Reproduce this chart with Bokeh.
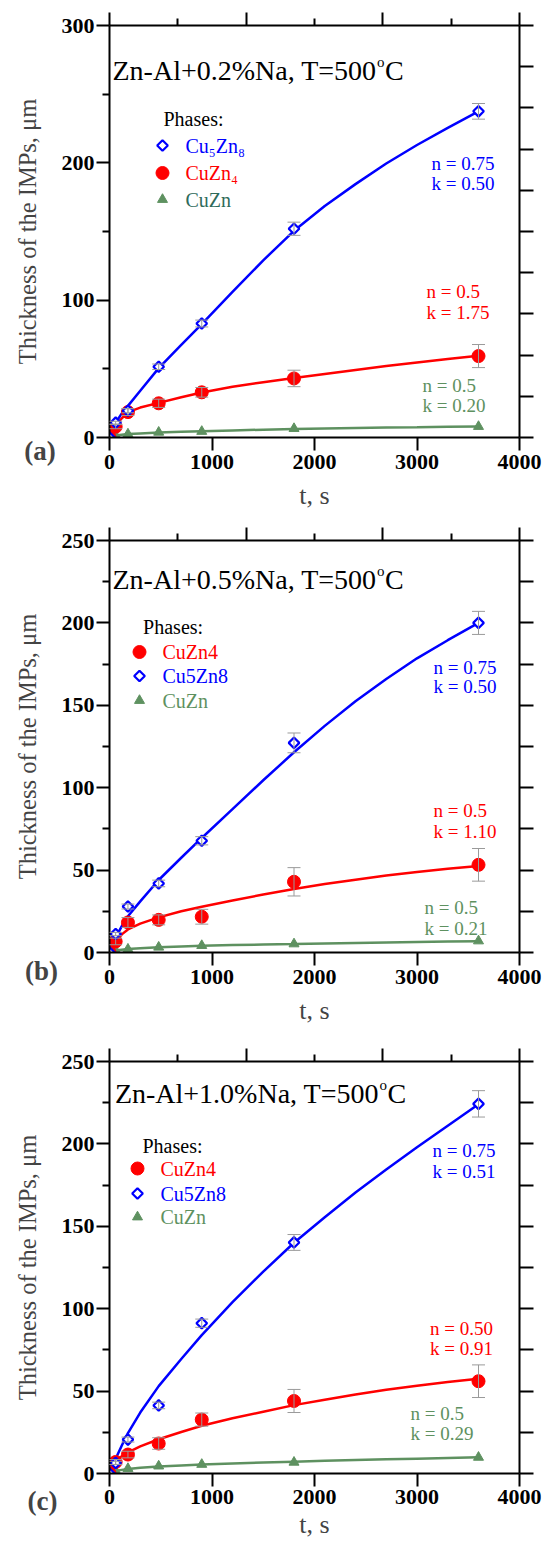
import numpy as np
from bokeh.plotting import figure
from bokeh.layouts import column, row
from bokeh.models import (Range1d, LinearAxis, FixedTicker, Label, Whisker,
                          ColumnDataSource, TeeHead)
from bokeh.embed import file_html
from bokeh.resources import INLINE

# ---------------- data ----------------
t = [0, 60, 180, 480, 900, 1800, 3600]
t_fit = [0, 30, 60, 120, 180, 300, 480, 700, 900, 1200, 1500, 1800,
         2100, 2400, 2700, 3000, 3300, 3600]

# panel (a): Zn-Al+0.2%Na
a_cu5zn8 = [0, 10.8, 19.5, 51.5, 83, 152, 237.5]
a_cu5zn8_err = [0, 1, 1.5, 2, 2.5, 4.8, 5.7]
a_cuzn4 = [0, 7.9, 18.5, 24.9, 32.9, 43, 59.3]
a_cuzn4_err = [0, 1.5, 2.5, 3, 3.5, 6, 8.4]
a_cuzn = [0, 1.5, 2.5, 3.8, 4.4, 6.5, 8]
a_fit_cu5zn8 = [0, 6.2, 10.8, 17.5, 23, 34, 50.5, 67.5, 82.5, 106, 129, 150.5,
                168.5, 184.5, 199.5, 213, 225.5, 237.5]
a_fit_cuzn4 = [0, 5, 8.5, 14, 18.5, 21.8, 25.2, 29.3, 32.8, 37, 40.3, 43.3,
               46.3, 49.2, 52, 54.6, 57.1, 59.5]
a_fit_cuzn = [0, 1, 1.5, 2, 2.5, 3, 3.6, 4.1, 4.5, 5.1, 5.7, 6.2, 6.6, 7, 7.3, 7.5, 7.8, 8]

# panel (b): Zn-Al+0.5%Na
b_cu5zn8 = [0, 11.2, 27.9, 41.9, 67.8, 127.2, 200]
b_cu5zn8_err = [0, 1, 1.5, 2, 2.5, 6, 7]
b_cuzn4 = [0, 6.7, 18.2, 19.8, 21.7, 42.9, 53.2]
b_cuzn4_err = [0, 2, 3, 3, 4.5, 8.6, 9.9]
b_cuzn = [0, 1.2, 2, 3.2, 4.2, 5.2, 7]
b_fit_cu5zn8 = [0, 5, 9, 16, 22, 31, 44, 57.5, 69.5, 87, 104.5, 121.5,
                137.5, 152.5, 166, 178.5, 189.5, 200]
b_fit_cuzn4 = [0, 4, 6.5, 11, 14, 17.5, 21.3, 25, 27.8, 31.5, 35.2, 38.5,
               41.5, 44.2, 46.7, 48.8, 50.8, 52.5]
b_fit_cuzn = [0, 0.8, 1.2, 1.7, 2.1, 2.6, 3.2, 3.7, 4.1, 4.5, 4.8, 5.1, 5.5, 5.8, 6.1, 6.4, 6.7, 6.9]

# panel (c): Zn-Al+1.0%Na
c_cu5zn8 = [0, 6.4, 20.6, 41.3, 91.2, 140.2, 224.3]
c_cu5zn8_err = [0, 1, 1.5, 2, 2.5, 4.8, 8]
c_cuzn4 = [0, 7, 11.5, 18.2, 32.7, 44, 56]
c_cuzn4_err = [0, 1.5, 2, 3.5, 4, 7, 9.9]
c_cuzn = [0, 1.5, 3, 4.5, 5.5, 6.8, 9.8]
c_fit_cu5zn8 = [0, 5, 9, 17, 24.5, 37, 53, 69.5, 84, 104, 122.5, 140,
                155.5, 170.5, 184.5, 198, 211, 224]
c_fit_cuzn4 = [0, 5, 8, 10.5, 12.8, 16.5, 20.8, 25.2, 29, 33.5, 37.5, 41.5,
               44.8, 48, 50.8, 53.2, 55.5, 57.5]
c_fit_cuzn = [0, 1, 1.5, 2.2, 2.8, 3.5, 4.2, 4.9, 5.5, 6.1, 6.7, 7.2, 7.7, 8.2, 8.6, 9, 9.4, 9.8]

x_ticks = [0, 1000, 2000, 3000, 4000]

# ---------------- style ----------------
FONT = "Liberation Serif"
BLUE = "#0000ff"
RED = "#ff0000"
GREEN = "#5e9160"
GREEN_DARK = "#2f6b5b"
GRAY = "#9a9a9a"

STRIP_W = 58
MAIN_W = 553 - STRIP_W
BORDER_L = 51
FX0 = STRIP_W + BORDER_L    # page x of frame left
FW = 410.0
FH = 412.0


def style_axis(ax, major_out, minor_out, labels=True, standoff=3):
    ax.axis_line_width = 2
    ax.axis_line_color = "black"
    ax.major_tick_line_width = 2
    ax.minor_tick_line_width = 2
    ax.major_tick_in = 0
    ax.minor_tick_in = 0
    ax.major_tick_out = major_out
    ax.minor_tick_out = minor_out
    if labels:
        ax.major_label_text_font = FONT
        ax.major_label_text_font_style = "bold"
        ax.major_label_text_font_size = "22px"
        ax.major_label_text_color = "black"
        ax.major_label_standoff = standoff
    else:
        ax.major_label_text_font_size = "1px"
        ax.major_label_text_alpha = 0
        ax.major_label_standoff = 0


def build(cfg):
    ymax = cfg["ymax"]
    ftop = cfg["frame_top"]
    fig_top = cfg["fig_top"]
    H = cfg["H"]

    def X(px):
        return (px - FX0) / FW * 4000.0

    def Y(py):
        return (ftop + FH - py) / FH * ymax

    p = figure(width=MAIN_W, height=H, x_range=Range1d(0, 4000), y_range=Range1d(0, ymax),
               output_backend="svg", toolbar_location=None,
               min_border_left=BORDER_L, min_border_right=MAIN_W - BORDER_L - int(FW),
               min_border_top=ftop - fig_top, min_border_bottom=H - (ftop - fig_top) - int(FH))
    p.grid.visible = False
    p.outline_line_color = None
    p.background_fill_color = "white"
    p.border_fill_color = "white"

    # bottom axis
    p.xaxis.ticker = FixedTicker(ticks=x_ticks, minor_ticks=[])
    style_axis(p.xaxis[0], 13, 0, standoff=cfg["xstand"])
    p.xaxis.axis_label = "t, s"
    p.xaxis.axis_label_text_font = FONT
    p.xaxis.axis_label_text_font_style = "normal"
    p.xaxis.axis_label_text_font_size = "26px"
    p.xaxis.axis_label_standoff = cfg["xlstand"]
    # left axis
    p.yaxis.ticker = FixedTicker(ticks=cfg["ymajor"], minor_ticks=cfg["yminor"])
    style_axis(p.yaxis[0], 13, 7, standoff=2)
    # right axis
    ra = LinearAxis(ticker=FixedTicker(ticks=cfg["yright"], minor_ticks=[]))
    style_axis(ra, 14, 0, labels=False)
    p.add_layout(ra, "right")
    # top axis
    ta = LinearAxis(ticker=FixedTicker(ticks=[0, 4000 / 3, 8000 / 3, 4000],
                                       minor_ticks=[4000 / 6, 2000, 20000 / 6]))
    style_axis(ta, 13, 7, labels=False)
    p.add_layout(ta, "above")

    d = cfg["data"]
    # fitted curves
    p.line(t_fit, d["fit_cuzn"], line_color=GREEN, line_width=2.5)
    p.line(t_fit, d["fit_cuzn4"], line_color=RED, line_width=2.5)
    p.line(t_fit, d["fit_cu5zn8"], line_color=BLUE, line_width=2.5)
    # data points
    p.scatter(t, d["cuzn"], marker="triangle", size=10, fill_color=GREEN, line_color=GREEN)
    p.scatter(t, d["cuzn4"], marker="circle", size=13, fill_color=RED, line_color=RED)
    p.scatter(t, d["cu5zn8"], marker="square", angle=np.pi / 4, size=7.5,
              fill_color="white", line_color=BLUE, line_width=2.2)
    # error bars
    for vals, errs in ((d["cuzn4"], d["cuzn4_err"]), (d["cu5zn8"], d["cu5zn8_err"])):
        tt = [ti for ti, e in zip(t, errs) if e > 0]
        up = [v + e for v, e in zip(vals, errs) if e > 0]
        lo = [v - e for v, e in zip(vals, errs) if e > 0]
        src = ColumnDataSource(dict(t=tt, up=up, lo=lo))
        wk = Whisker(base="t", upper="up", lower="lo", source=src,
                     line_color=GRAY, line_width=1,
                     upper_head=TeeHead(size=13, line_color=GRAY, line_width=1),
                     lower_head=TeeHead(size=13, line_color=GRAY, line_width=1),
                     level="annotation")
        p.add_layout(wk)

    def lab(px, py, text, size, color="black", align="left", baseline="middle"):
        p.add_layout(Label(x=X(px), y=Y(py), text=text, text_font=FONT,
                           text_font_size=f"{size}px", text_color=color,
                           text_align=align, text_baseline=baseline))

    # title with superscript o
    tf = cfg["title_size"]
    tl, tb = cfg["title_pos"]
    lab(tl, tb, cfg["title"], tf, baseline="alphabetic")
    osz = round(tf * 0.55)
    ox = tl + 9.432 * tf + 0.5
    lab(ox, tb - 0.3 * tf, "o", osz, baseline="alphabetic")
    lab(ox + 0.5 * osz + 0.5, tb, "C", tf, baseline="alphabetic")

    # legend
    lx, ly = cfg["phases_pos"]
    lab(lx, ly, "Phases:", 20)
    mx = cfg["legend_mx"]
    tx = cfg["legend_tx"]
    for (kind, name, color), ry in zip(cfg["legend"], cfg["legend_rows"]):
        if kind == "diamond":
            p.scatter([X(mx)], [Y(ry)], marker="square", angle=np.pi / 4, size=7.5,
                      fill_color="white", line_color=BLUE, line_width=2.2)
        elif kind == "circle":
            p.scatter([X(mx)], [Y(ry)], marker="circle", size=13, fill_color=RED, line_color=RED)
        else:
            p.scatter([X(mx)], [Y(ry)], marker="triangle", size=10, fill_color=GREEN,
                      line_color=GREEN)
        lab(tx, ry, name, 20, color=color)

    # fit parameters
    for (px, py1, py2, l1, l2, color) in cfg["annots"]:
        lab(px, py1, l1, 19, color=color)
        lab(px, py2, l2, 19, color=color)

    # left strip: y-axis title and panel letter
    s = figure(width=STRIP_W, height=H, x_range=Range1d(0, STRIP_W), y_range=Range1d(0, H),
               output_backend="svg", toolbar_location=None, min_border=0,
               x_axis_location=None, y_axis_location=None)
    s.frame_align = False
    s.grid.visible = False
    s.outline_line_color = None
    s.border_fill_color = "white"
    s.background_fill_color = "white"
    cx, cy, letter = cfg["panel"]
    s.add_layout(Label(x=cx, y=H - (cy - fig_top), text=letter, text_font=FONT,
                       text_font_size="27px", text_font_style="bold",
                       text_align="center", text_baseline="middle"))
    s.add_layout(Label(x=27, y=H - (ftop + FH / 2 - fig_top),
                       text="Thickness of the IMPs, \u03bcm", text_font=FONT,
                       text_font_size="24.5px", text_align="center", text_baseline="middle",
                       angle=np.pi / 2))
    return row(s, p, spacing=0)


cfg_a = dict(
    fig_top=0, H=520, frame_top=25, ymax=300, xstand=4, xlstand=9,
    ymajor=[0, 100, 200, 300], yminor=[50, 150, 250],
    yright=list(range(0, 301, 30)),
    data=dict(cu5zn8=a_cu5zn8, cu5zn8_err=a_cu5zn8_err, cuzn4=a_cuzn4, cuzn4_err=a_cuzn4_err,
              cuzn=a_cuzn, fit_cu5zn8=a_fit_cu5zn8, fit_cuzn4=a_fit_cuzn4, fit_cuzn=a_fit_cuzn),
    title="Zn-Al+0.2%Na, T=500", title_size=28, title_pos=(112, 70),
    phases_pos=(163, 118), legend_mx=162, legend_tx=185,
    legend=[("diamond", "Cu\u2085Zn\u2088", BLUE), ("circle", "CuZn\u2084", RED),
            ("triangle", "CuZn", GREEN_DARK)],
    legend_rows=[145, 172.5, 199],
    annots=[(431, 163, 182.5, "n = 0.75", "k = 0.50", BLUE),
            (426, 290.6, 311.6, "n = 0.5", "k = 1.75", RED),
            (422, 385, 405, "n = 0.5", "k = 0.20", GREEN)],
    panel=(39.5, 450, "(a)"),
)

cfg_b = dict(
    fig_top=520, H=520, frame_top=540, ymax=250, xstand=4, xlstand=9,
    ymajor=[0, 50, 100, 150, 200, 250], yminor=[25, 75, 125, 175, 225],
    yright=list(range(0, 251, 25)),
    data=dict(cu5zn8=b_cu5zn8, cu5zn8_err=b_cu5zn8_err, cuzn4=b_cuzn4, cuzn4_err=b_cuzn4_err,
              cuzn=b_cuzn, fit_cu5zn8=b_fit_cu5zn8, fit_cuzn4=b_fit_cuzn4, fit_cuzn=b_fit_cuzn),
    title="Zn-Al+0.5%Na, T=500", title_size=28, title_pos=(112, 579),
    phases_pos=(142.6, 626.6), legend_mx=139, legend_tx=162,
    legend=[("circle", "CuZn4", RED), ("diamond", "Cu5Zn8", BLUE), ("triangle", "CuZn", GREEN)],
    legend_rows=[651.5, 675.5, 700],
    annots=[(433, 666.5, 686, "n = 0.75", "k = 0.50", BLUE),
            (433, 810, 830.6, "n = 0.5", "k = 1.10", RED),
            (424, 906.5, 928, "n = 0.5", "k = 0.21", GREEN)],
    panel=(41, 970, "(b)"),
)

cfg_c = dict(
    fig_top=1040, H=501, frame_top=1061, ymax=250, xstand=3, xlstand=3,
    ymajor=[0, 50, 100, 150, 200, 250], yminor=[25, 75, 125, 175, 225],
    yright=list(range(0, 251, 25)),
    data=dict(cu5zn8=c_cu5zn8, cu5zn8_err=c_cu5zn8_err, cuzn4=c_cuzn4, cuzn4_err=c_cuzn4_err,
              cuzn=c_cuzn, fit_cu5zn8=c_fit_cu5zn8, fit_cuzn4=c_fit_cuzn4, fit_cuzn=c_fit_cuzn),
    title="Zn-Al+1.0%Na, T=500", title_size=28, title_pos=(114.4, 1092.5),
    phases_pos=(142, 1145), legend_mx=137, legend_tx=160,
    legend=[("circle", "CuZn4", RED), ("diamond", "Cu5Zn8", BLUE), ("triangle", "CuZn", GREEN)],
    legend_rows=[1168, 1193, 1216.5],
    annots=[(432, 1150, 1170.5, "n = 0.75", "k = 0.51", BLUE),
            (429.5, 1328, 1348, "n = 0.50", "k = 0.91", RED),
            (410, 1412.5, 1432.5, "n = 0.5", "k = 0.29", GREEN)],
    panel=(42, 1500, "(c)"),
)

layout = column(build(cfg_a), build(cfg_b), build(cfg_c), spacing=0)
open("out.html", "w").write(file_html(layout, INLINE, title="IMP thickness"))
